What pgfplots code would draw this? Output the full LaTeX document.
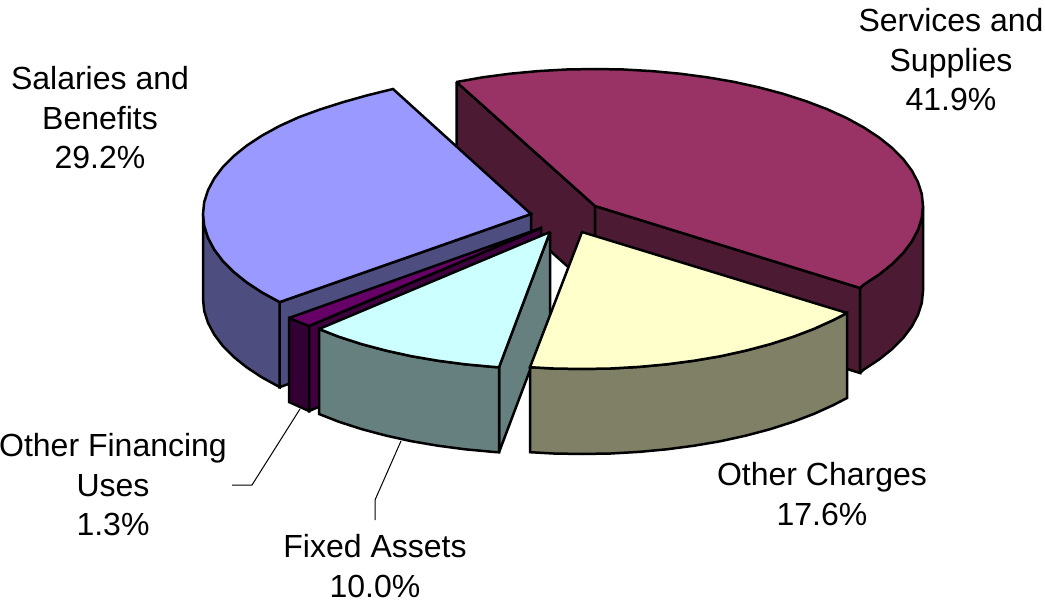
\documentclass[border=0pt]{standalone}
\usepackage{pgfplots}
\pgfplotsset{compat=1.18}
\usepackage{fontspec}
\setmainfont{Liberation Sans}
\definecolor{svcT}{HTML}{993366}
\definecolor{svcS}{HTML}{4D1A33}
\definecolor{salT}{HTML}{9999FF}
\definecolor{salS}{HTML}{4D4D80}
\definecolor{ofuT}{HTML}{660066}
\definecolor{ofuS}{HTML}{330033}
\definecolor{ofuR}{HTML}{400040}
\definecolor{fixT}{HTML}{CCFFFF}
\definecolor{fixS}{HTML}{668080}
\definecolor{othT}{HTML}{FFFFCC}
\definecolor{othS}{HTML}{808066}
\begin{document}
\begin{tikzpicture}
\path[use as bounding box] (0,0) rectangle (1045pt,602pt);
\begin{axis}[
  at={(0,0)}, anchor=south west,
  scale only axis, width=1045pt, height=602pt,
  xmin=0, xmax=1045, ymin=0, ymax=602, y dir=reverse,
  hide axis, clip=false, no markers,
  every axis plot/.append style={line width=2.5pt, draw=black, line join=miter, miter limit=2},
]
% Services and Supplies
\addplot[fill=svcS] coordinates {(456.5,82)(595,206)(595,291)(456.5,167)} --cycle;
\addplot[fill=svcS] coordinates {(595,206)(860,288)(860,373)(595,291)} --cycle;
\addplot[fill=svcS] coordinates {(923,206)(923,291)(921.8,302.9)(918,314.8)(911.8,326.5)(903.2,337.9)(892.3,348.9)(879.1,359.5)(863.7,369.6)(860,373)(860,288)(863.7,284.6)(879.1,274.5)(892.3,263.9)(903.2,252.9)(911.8,241.5)(918,229.8)(921.8,217.9)} --cycle;
\addplot[fill=svcT] coordinates {(595,206)(456.5,82)(482.8,77.3)(510.1,73.7)(538.1,71.1)(566.4,69.5)(595,69)(623.6,69.5)(651.9,71.1)(679.9,73.7)(707.2,77.3)(733.6,81.8)(759,87.4)(783.1,93.8)(805.8,101.1)(826.9,109.1)(846.3,117.9)(863.7,127.4)(879.1,137.5)(892.3,148.1)(903.2,159.1)(911.8,170.5)(918,182.2)(921.8,194.1)(923,206)(921.8,217.9)(918,229.8)(911.8,241.5)(903.2,252.9)(892.3,263.9)(879.1,274.5)(863.7,284.6)(860,288)} --cycle;
% Salaries and Benefits
\addplot[fill=salS] coordinates {(531,214)(279.7,302.1)(279.7,387.1)(531,299)} --cycle;
\addplot[fill=salS] coordinates {(203,214)(203,299)(204.2,310.9)(208,322.8)(214.2,334.5)(222.8,345.9)(233.7,356.9)(246.9,367.5)(262.3,377.6)(279.7,387.1)(279.7,302.1)(262.3,292.6)(246.9,282.5)(233.7,271.9)(222.8,260.9)(214.2,249.5)(208,237.8)(204.2,225.9)} --cycle;
\addplot[fill=salT] coordinates {(531,214)(393,89)(367,95.4)(342.9,102.2)(320.2,109.4)(299.1,117.1)(279.7,125.9)(262.3,135.4)(246.9,145.5)(233.7,156.1)(222.8,167.1)(214.2,178.5)(208,190.2)(204.2,202.1)(203,214)(204.2,225.9)(208,237.8)(214.2,249.5)(222.8,260.9)(233.7,271.9)(246.9,282.5)(262.3,292.6)(279.7,302.1)} --cycle;
% Other Financing Uses
\addplot[fill=ofuR] coordinates {(309,326)(541,228)(541,313)(309,411)} --cycle;
\addplot[fill=ofuS] coordinates {(289,318)(309,326)(309,411)(289,402)} --cycle;
\addplot[fill=ofuT] coordinates {(541,228)(289,318)(309,326)} --cycle;
% Fixed Assets
\addplot[fill=fixS] coordinates {(550,232)(499,367.3)(499,452.3)(550,317)} --cycle;
\addplot[fill=fixS] coordinates {(319,329)(319,414)(339.2,421.9)(361.9,429.2)(386,435.6)(411.4,441.2)(437.8,445.7)(465.1,449.3)(493.1,451.9)(499,452.3)(499,367.3)(493.1,366.9)(465.1,364.3)(437.8,360.7)(411.4,356.2)(386,350.6)(361.9,344.2)(339.2,336.9)} --cycle;
\addplot[fill=fixT] coordinates {(550,232)(319,329)(339.2,336.9)(361.9,344.2)(386,350.6)(411.4,356.2)(437.8,360.7)(465.1,364.3)(493.1,366.9)(499,367.3)} --cycle;
% Other Charges
\addplot[fill=othS] coordinates {(847,313)(847,398)(833.3,405.1)(813.9,413.9)(792.8,421.9)(770.1,429.2)(746,435.6)(720.6,441.2)(694.2,445.7)(666.9,449.3)(638.9,451.9)(610.6,453.5)(582,454)(553.4,453.5)(530,452.2)(530,367.2)(553.4,368.5)(582,369)(610.6,368.5)(638.9,366.9)(666.9,364.3)(694.2,360.7)(720.6,356.2)(746,350.6)(770.1,344.2)(792.8,336.9)(813.9,328.9)(833.3,320.1)} --cycle;
\addplot[fill=othT] coordinates {(582,232)(847,313)(833.3,320.1)(813.9,328.9)(792.8,336.9)(770.1,344.2)(746,350.6)(720.6,356.2)(694.2,360.7)(666.9,364.3)(638.9,366.9)(610.6,368.5)(582,369)(553.4,368.5)(530,367.2)} --cycle;
% Leader lines
\addplot[line width=1pt, fill=none] coordinates {(300,409)(252,485)(232,485)};
\addplot[line width=1pt, fill=none] coordinates {(401,441)(375,500)(375,520)};
% Labels
\tikzset{lab/.style={align=center, inner sep=0pt, font=\fontsize{32}{39.5}\selectfont}}
\node[lab] at (axis cs:951,60) {Services and\\Supplies\\41.9\%};
\node[lab] at (axis cs:100,118) {Salaries and\\Benefits\\29.2\%};
\node[lab] at (axis cs:113,485) {Other Financing\\Uses\\1.3\%};
\node[lab] at (axis cs:375,566) {Fixed Assets\\10.0\%};
\node[lab] at (axis cs:822,494) {Other Charges\\17.6\%};
\end{axis}
\end{tikzpicture}
\end{document}
